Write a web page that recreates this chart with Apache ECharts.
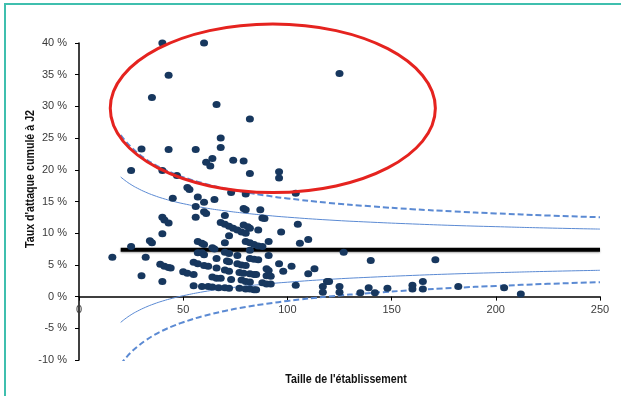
<!DOCTYPE html>
<html>
<head>
<meta charset="utf-8">
<script src="https://cdn.jsdelivr.net/npm/echarts@6/dist/echarts.min.js"></script>
<style>html,body{margin:0;padding:0;background:#fff}#c{width:621px;height:396px}</style>
</head>
<body>
<div id="c"></div>
<script>
// Establishment size (x) and cumulated attack rate at D2 in % (y)
const sizes = [40,60,43,125,35,66,82,68,68,30,43,56,64,61,63,74,79,82,96,96,25,40,47,52,53,73,80,104,45,57,65,60,56,79,80,87,60,61,70,40,41,43,56,88,89,68,70,72,74,79,81,82,105,76,78,80,86,97,40,72,110,34,35,57,59,60,70,80,82,84,86,88,91,106,25,64,65,82,127,57,59,60,70,72,76,82,84,86,91,16,32,66,140,171,39,41,43,44,55,57,60,62,66,71,72,76,78,80,70,72,96,102,90,91,98,113,110,50,52,55,77,79,82,84,85,64,66,68,90,92,30,73,78,80,82,40,88,90,92,119,120,165,55,59,62,64,67,70,72,77,80,82,84,85,104,117,117,125,125,135,139,142,148,160,160,165,182,204,212];
const rates = [40,40,34.9,35.2,31.4,30.3,28.0,25.0,23.5,23.3,23.2,23.2,21.8,21.2,20.6,21.5,21.4,19.4,19.7,18.7,19.9,19.9,19.1,17.2,16.9,16.4,16.2,16.3,15.5,15.7,15.3,14.9,14.2,13.9,13.7,13.7,13.4,13.1,12.8,12.5,12.1,11.6,12.5,12.4,12.3,11.7,11.4,11.1,10.8,11.3,11.0,10.8,11.4,10.5,10.2,10.0,10.5,10.2,9.9,9.6,9.0,8.8,8.5,8.7,8.4,8.2,8.5,8.7,8.5,8.2,8.0,7.9,8.7,8.4,7.9,7.7,7.5,7.3,7.0,6.9,6.9,6.6,7.0,6.8,6.5,6.0,5.9,5.8,6.5,6.2,6.2,6.0,5.7,5.8,5.1,4.8,4.6,4.5,5.4,5.2,4.9,4.8,4.5,5.6,5.5,5.2,5.0,4.9,4.2,4.0,5.2,4.8,4.4,4.1,4.0,4.4,3.6,3.9,3.7,3.5,3.8,3.7,3.6,3.5,3.5,3.1,2.9,2.9,3.3,3.2,3.3,2.7,2.6,2.4,2.3,2.4,2.2,2.0,2.0,2.4,2.4,2.4,1.7,1.6,1.6,1.5,1.4,1.4,1.3,1.3,1.2,1.2,1.1,1.1,1.8,1.6,0.7,1.6,0.7,0.6,1.4,0.6,1.3,1.8,1.2,1.2,1.6,1.4,0.4];

// Mean line
const meanX = [20, 250];
const meanY = [7.4, 7.4];

// Funnel limits
const limitX   = [20, 22, 25, 28, 32, 36, 40, 45, 50, 60, 70, 80, 90, 100, 120, 140, 160, 180, 200, 225, 250];
const upper95  = [18.87, 18.34, 17.66, 17.10, 16.47, 15.95, 15.51, 15.05, 14.66, 14.02, 13.53, 13.14, 12.81, 12.53, 12.08, 11.74, 11.46, 11.22, 11.03, 10.82, 10.65];
const lower95  = [-4.07, -3.54, -2.86, -2.30, -1.67, -1.15, -0.71, -0.25, 0.14, 0.78, 1.27, 1.66, 1.99, 2.27, 2.72, 3.06, 3.34, 3.58, 3.77, 3.98, 4.15];
const upper998 = [25.49, 24.65, 23.58, 22.69, 21.70, 20.88, 20.19, 19.46, 18.84, 17.84, 17.07, 16.44, 15.93, 15.49, 14.78, 14.24, 13.79, 13.43, 13.12, 12.79, 12.52];
const lower998 = [-10.69, -9.85, -8.78, -7.89, -6.90, -6.08, -5.39, -4.66, -4.04, -3.04, -2.27, -1.64, -1.13, -0.69, 0.02, 0.56, 1.01, 1.37, 1.68, 2.01, 2.28];

const xTitle = "Taille de l'établissement";
const yTitle = "Taux d'attaque cumulé à J2";

const zip = (a, b) => a.map((v, i) => [v, b[i]]);

const chart = echarts.init(document.getElementById('c'));
const labelFont = { fontFamily: 'Liberation Sans, Arial, sans-serif', fontSize: 11, color: '#3a3a3a' };
const solidStyle = { color: '#5b8ad3', width: 1, type: 'solid' };
const dashStyle = { color: '#5b8ad3', width: 2, type: [6, 3] };

chart.setOption({
  animation: false,
  grid: { left: 79, right: 21, top: 43, bottom: 36 },
  xAxis: {
    type: 'value', min: 0, max: 250, interval: 50,
    axisLine: { onZero: false, lineStyle: { color: '#000', width: 1.5 } },
    axisTick: { show: true, length: 4, lineStyle: { color: '#000' } },
    splitLine: { show: false },
    axisLabel: Object.assign({ margin: 8 }, labelFont)
  },
  yAxis: {
    type: 'value', min: -10, max: 40, interval: 5,
    axisLine: { show: true, lineStyle: { color: '#000', width: 1.5 } },
    axisTick: { show: true, length: 4, lineStyle: { color: '#000' } },
    splitLine: { show: false },
    axisLabel: Object.assign({ margin: 12, formatter: '{value} %' }, labelFont)
  },
  series: [
    { type: 'line', data: zip(limitX, upper998), smooth: true, showSymbol: false, lineStyle: dashStyle, z: 2 },
    { type: 'line', data: zip(limitX, lower998), smooth: true, showSymbol: false, lineStyle: dashStyle, z: 2 },
    { type: 'line', data: zip(limitX, upper95), smooth: true, showSymbol: false, lineStyle: solidStyle, z: 2 },
    { type: 'line', data: zip(limitX, lower95), smooth: true, showSymbol: false, lineStyle: solidStyle, z: 2 },
    { type: 'line', data: zip(meanX, meanY), showSymbol: false,
      lineStyle: { color: '#000', width: 4, shadowColor: 'rgba(0,0,0,0.35)', shadowBlur: 2, shadowOffsetY: 1 }, z: 3 },
    { type: 'scatter', data: zip(sizes, rates), symbol: 'circle', symbolSize: [8, 7],
      itemStyle: { color: '#17375E', opacity: 1 }, z: 4 }
  ]
});

// Move the x axis (line + labels) up to the 0 % level
const zeroPx = chart.convertToPixel({ gridIndex: 0 }, [0, 0])[1];
const bottomPx = chart.convertToPixel({ gridIndex: 0 }, [0, -10])[1];
chart.setOption({ xAxis: { offset: -(bottomPx - zeroPx) } });

// Annotation ellipse (centre and radii in data units)
const ell = { cx: 93, cy: 29.7, rx: 78, ry: 13.3 };
const c0 = chart.convertToPixel({ gridIndex: 0 }, [ell.cx, ell.cy]);
const cxr = chart.convertToPixel({ gridIndex: 0 }, [ell.cx + ell.rx, ell.cy]);
const cyr = chart.convertToPixel({ gridIndex: 0 }, [ell.cx, ell.cy + ell.ry]);

const titleFont = 'bold 13px "Liberation Sans", Arial, sans-serif';
chart.setOption({
  graphic: [
    { type: 'rect', shape: { x: 5, y: 4, width: 640, height: 420 },
      style: { fill: 'none', stroke: '#3fbfae', lineWidth: 2 }, silent: true },
    { type: 'ellipse', shape: { cx: c0[0], cy: c0[1], rx: cxr[0] - c0[0], ry: c0[1] - cyr[1] },
      style: { fill: 'none', stroke: '#e5231f', lineWidth: 3 }, z: 100 },
    { type: 'text', x: 346, y: 379, scaleX: 0.82,
      style: { text: xTitle, fill: '#111', font: titleFont,
        textAlign: 'center', textVerticalAlign: 'middle' } },
    { type: 'text', x: 30, y: 179, rotation: Math.PI / 2, scaleX: 0.82,
      style: { text: yTitle, fill: '#111', font: titleFont,
        textAlign: 'center', textVerticalAlign: 'middle' } }
  ]
});
</script>
</body>
</html>
